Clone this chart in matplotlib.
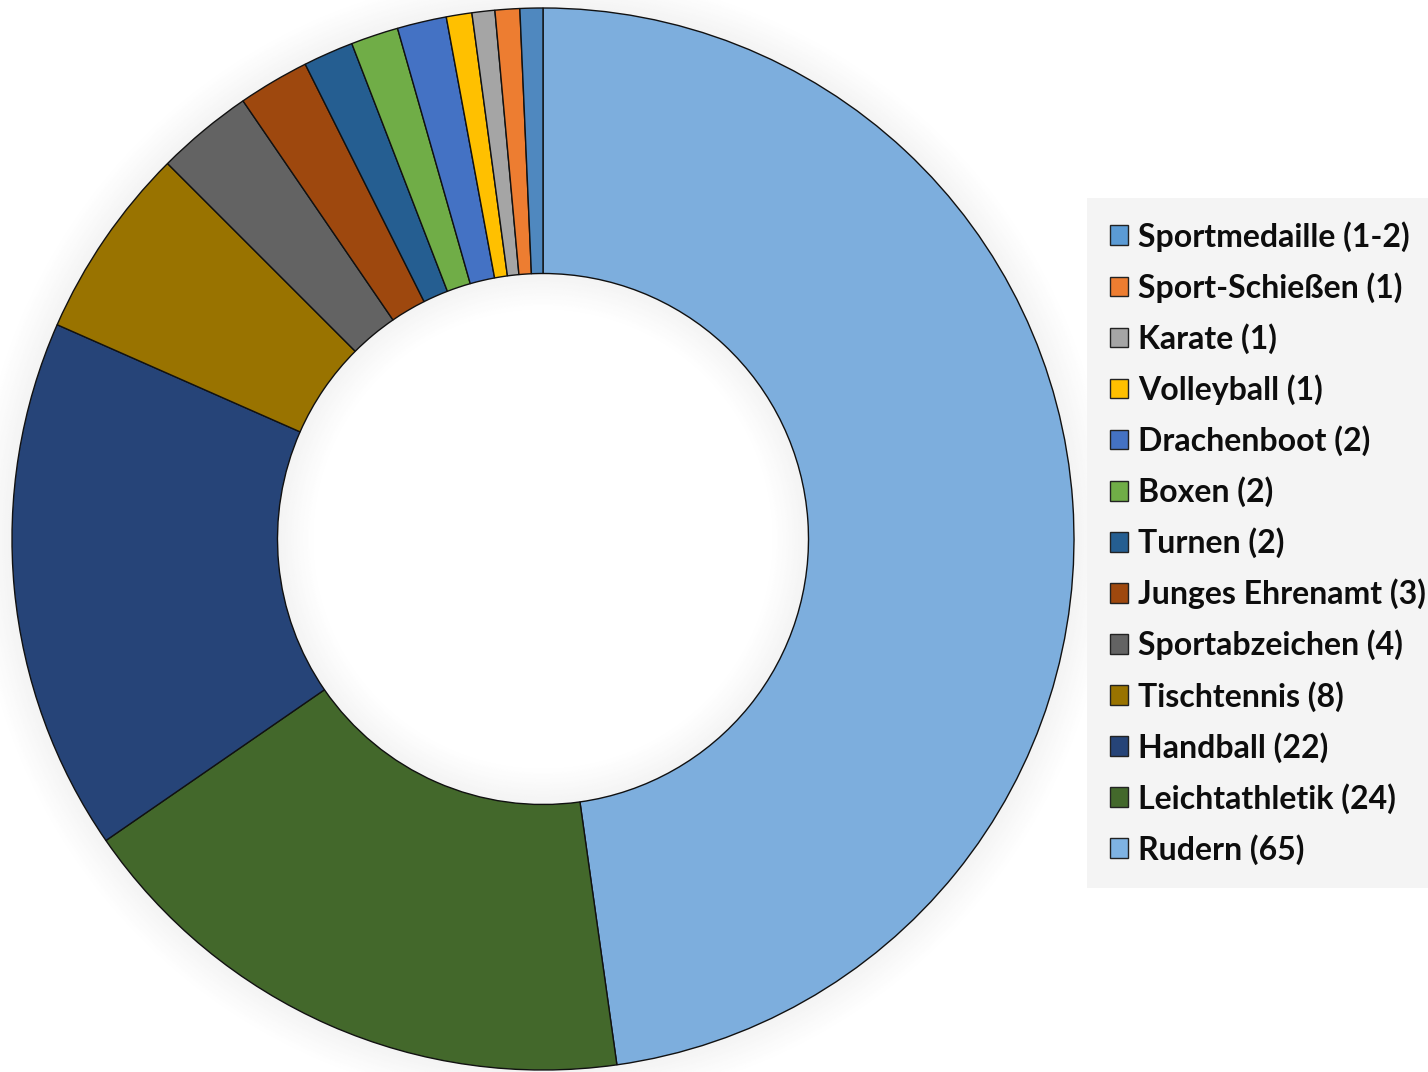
import matplotlib
matplotlib.use("Agg")
import matplotlib.pyplot as plt
from matplotlib.patches import Wedge
from matplotlib.patches import Rectangle

# Wedges in drawing order (clockwise from 12 o'clock)
labels = ["Rudern (65)", "Leichtathletik (24)", "Handball (22)", "Tischtennis (8)",
          "Sportabzeichen (4)", "Junges Ehrenamt (3)", "Turnen (2)", "Boxen (2)",
          "Drachenboot (2)", "Volleyball (1)", "Karate (1)", "Sport-Schießen (1)",
          "Sportmedaille (1-2)"]
# slice sizes (angular share)
values = [172.0, 63.4, 58.4, 21.2, 10.6, 7.8, 5.5, 5.2, 5.4, 2.8, 2.5, 2.7, 2.5]
colors = ["#7DAEDD", "#43682B", "#264478", "#997300", "#636363", "#9E480E",
          "#255E91", "#70AD47", "#4472C4", "#FFC000", "#A5A5A5", "#ED7D31",
          "#4F88BF"]
legend_colors = ["#7FB3E3", "#43682B", "#264478", "#997300", "#636363", "#9E480E",
                 "#255E91", "#70AD47", "#4472C4", "#FFC000", "#A5A5A5", "#ED7D31",
                 "#5B9BD5"]

W, H = 1428, 1072
fig = plt.figure(figsize=(W / 100, H / 100), dpi=100)
fig.patch.set_facecolor("white")
ax = fig.add_axes([0, 0, 1, 1])

cx, cy = 543, H - 539
R = 531
width = 0.5

# soft shadow (outer and inner)
n = 18
for i in range(n):
    d = 2.0 * (i + 1)
    a = 0.045 * (1 - i / n)
    ax.add_patch(Wedge((cx, cy), R + d, 0, 360, width=2.0, facecolor="black",
                       edgecolor="none", alpha=a, zorder=0))
    ri = R * (1 - width) - d + 2.0
    ax.add_patch(Wedge((cx, cy), ri, 0, 360, width=2.0, facecolor="black",
                       edgecolor="none", alpha=a, zorder=3))

wedges, _ = ax.pie(values, colors=colors, startangle=90, counterclock=False,
                   center=(cx, cy), radius=R, frame=True,
                   wedgeprops=dict(width=R * width, edgecolor="#111111", linewidth=1.0))
for w in wedges:
    w.set_zorder(2)
ax.set_xlim(0, W)
ax.set_ylim(0, H)
ax.set_aspect("equal")
ax.axis("off")

# legend
handles = [Rectangle((0, 0), 1, 1, facecolor=c, edgecolor="#222222", linewidth=1.0)
           for c in legend_colors]
leg = fig.legend(handles[::-1], labels[::-1], loc="upper left",
                 bbox_to_anchor=(1087 / W, 1 - 198 / H),
                 prop=dict(family=["Lato", "DejaVu Sans"], weight="bold", size=23),
                 frameon=True, fancybox=False, facecolor="#F4F4F4", edgecolor="none",
                 framealpha=1.0, handlelength=0.57, handleheight=0.57,
                 handletextpad=0.3, labelspacing=0.636, borderpad=0.72,
                 borderaxespad=0)
for t in leg.get_texts():
    t.set_color("#0d0d0d")

fig.savefig("out.png", dpi=100, facecolor="white")
